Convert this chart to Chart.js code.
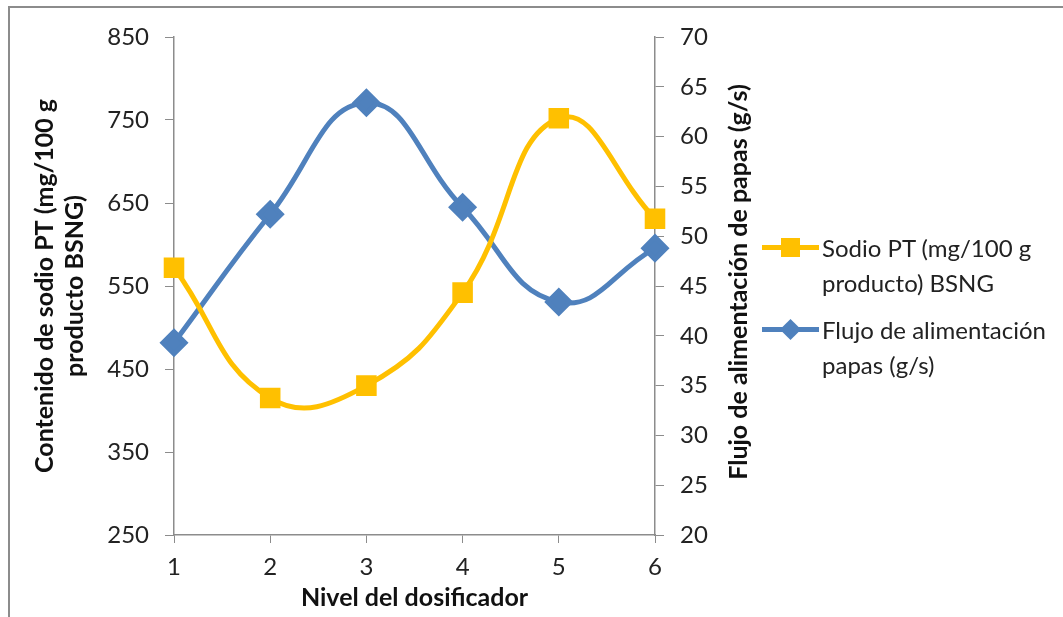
<!DOCTYPE html>
<html>
<head>
<meta charset="utf-8">
<script src="https://cdn.jsdelivr.net/npm/chart.js@4.4.0/dist/chart.umd.min.js"></script>
<style>
  html, body { margin: 0; padding: 0; background: #fff; overflow: hidden; }
  #wrap { position: relative; width: 1063px; height: 617px; }
  #frame { position: absolute; left: 8px; top: 6px; width: 1100px; height: 700px; border: 2px solid #8c8c8c; }
  #chart { position: absolute; left: 0; top: 0; }
  .legend { position: absolute; left: 762px; font-family: Lato, sans-serif; font-size: 24px; color: #222; line-height: 35px; }
  .legend .item { position: relative; padding-left: 60px; margin-bottom: 12px; }
  .legend .line { position: absolute; left: 0; top: 15px; width: 57px; height: 5px; }
  .legend .mark { position: absolute; }
</style>
</head>
<body>
<div id="wrap">
  <div id="frame"></div>
  <canvas id="chart" width="1063" height="617"></canvas>
  <div class="legend" style="top:230px">
    <div class="item">
      <div class="line" style="background:#FFC000"></div>
      <div class="mark" style="left:19px;top:8px;width:19px;height:19px;background:#FFC000"></div>
      Sodio PT (mg/100 g<br>producto) BSNG
    </div>
    <div class="item">
      <div class="line" style="background:#4F81BD"></div>
      <div class="mark" style="left:21px;top:10px;width:15px;height:15px;background:#4F81BD;transform:rotate(45deg)"></div>
      Flujo de alimentación<br>papas (g/s)
    </div>
  </div>
</div>
<script>
// data
let nivel = [1, 2, 3, 4, 5, 6];
let sodio = [572, 415, 430, 542, 752, 631];
let flujo = [39.3, 52.2, 63.4, 52.9, 43.4, 48.8];

let sodioLabel = 'Sodio PT (mg/100 g producto) BSNG';
let flujoLabel = 'Flujo de alimentación papas (g/s)';
let xTitle = 'Nivel del dosificador';
let leftTitle = ['Contenido de sodio PT (mg/100 g', 'producto BSNG)'];
let rightTitle = 'Flujo de alimentación de papas (g/s)';

const yellow = '#FFC000';
const blue = '#4F81BD';
const axisGray = '#8c8c8c';
const tickFont = { family: 'Lato', size: 24 };
const titleFont = { family: 'Lato', size: 25, weight: 'bold' };

// right axis title reads bottom-to-top in the original, chart.js turns it the other way
const rightTitlePlugin = {
  id: 'rightTitle',
  afterDraw(chart) {
    let c = chart.ctx;
    let area = chart.chartArea;
    c.save();
    c.translate(739, (area.top + area.bottom) / 2 - 4);
    c.rotate(-Math.PI / 2);
    c.font = 'bold 25px Lato';
    c.fillStyle = '#111';
    c.textAlign = 'center';
    c.textBaseline = 'middle';
    c.fillText(rightTitle, 0, 0);
    c.restore();
  }
};

let ctx = document.getElementById('chart').getContext('2d');

new Chart(ctx, {
  type: 'line',
  data: {
    datasets: [{
      label: sodioLabel,
      data: nivel.map((x, i) => ({ x: x, y: sodio[i] })),
      yAxisID: 'yLeft',
      borderColor: yellow,
      backgroundColor: yellow,
      borderWidth: 5,
      pointStyle: 'rect',
      pointRadius: 11,
      pointHoverRadius: 11,
      tension: 0.45,
      clip: false
    }, {
      label: flujoLabel,
      data: nivel.map((x, i) => ({ x: x, y: flujo[i] })),
      yAxisID: 'yRight',
      borderColor: blue,
      backgroundColor: blue,
      borderWidth: 5,
      pointStyle: 'rectRot',
      pointRadius: 11,
      pointHoverRadius: 11,
      tension: 0.45,
      clip: false
    }]
  },
  options: {
    responsive: false,
    animation: false,
    layout: { padding: { left: 10, right: 303, top: 37, bottom: 0 } },
    plugins: { legend: { display: false }, tooltip: { enabled: false } },
    scales: {
      x: {
        type: 'linear',
        min: 1,
        max: 6,
        ticks: { stepSize: 1, color: '#222', font: tickFont, padding: 10 },
        grid: { drawOnChartArea: false, color: axisGray, tickLength: 8 },
        border: { color: axisGray, width: 1.5 },
        title: { display: true, text: xTitle, color: '#111', font: titleFont, padding: { top: 4 } },
        afterFit: function (scale) { scale.height = 82; }
      },
      yLeft: {
        type: 'linear',
        position: 'left',
        min: 250,
        max: 850,
        ticks: { stepSize: 100, color: '#222', font: tickFont, padding: 16 },
        grid: { drawOnChartArea: false, color: axisGray, tickLength: 9 },
        border: { color: axisGray, width: 1.5 },
        title: { display: true, text: leftTitle, color: '#111', font: titleFont, padding: { top: 20 } },
        afterFit: function (scale) { scale.width = 164; }
      },
      yRight: {
        type: 'linear',
        position: 'right',
        min: 20,
        max: 70,
        ticks: { stepSize: 5, color: '#222', font: tickFont, padding: 16 },
        grid: { drawOnChartArea: false, color: axisGray, tickLength: 9 },
        border: { color: axisGray, width: 1.5 },
        title: { display: false },
        afterFit: function (scale) { scale.width = 105; }
      }
    }
  },
  plugins: [rightTitlePlugin]
});
</script>
</body>
</html>
